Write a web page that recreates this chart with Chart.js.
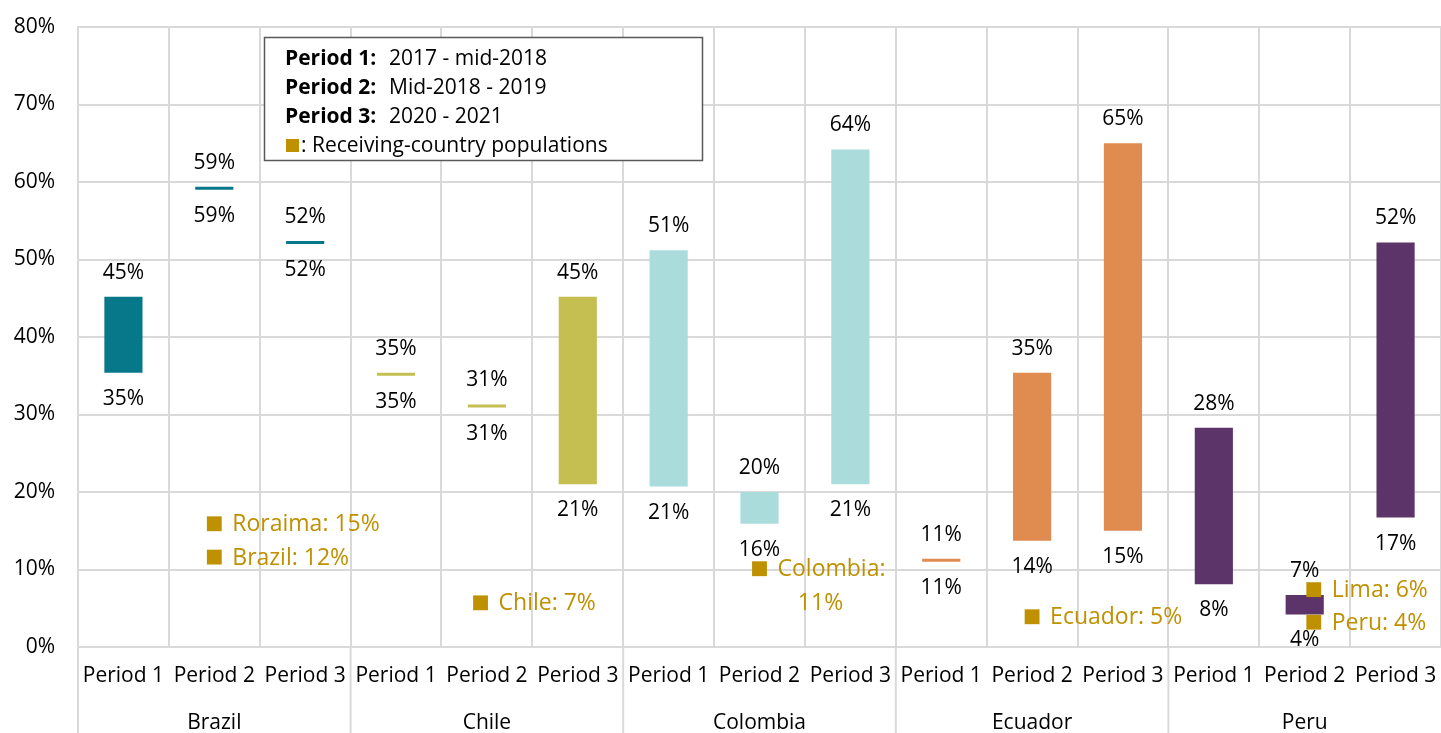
<!DOCTYPE html>
<html>
<head>
<meta charset="utf-8">
<script src="https://cdn.jsdelivr.net/npm/chart.js@4/dist/chart.umd.min.js"></script>
<style>
  html, body { margin: 0; padding: 0; background: #fff; }
  #wrap { width: 1441px; height: 733px; }
</style>
</head>
<body>
<div id="wrap"><canvas id="grafica"></canvas></div>
<script>
var categories = ['Period 1', 'Period 2', 'Period 3', 'Period 1', 'Period 2', 'Period 3',
    'Period 1', 'Period 2', 'Period 3', 'Period 1', 'Period 2', 'Period 3',
    'Period 1', 'Period 2', 'Period 3'];
var countries = ['Brazil', 'Chile', 'Colombia', 'Ecuador', 'Peru'];
var countryColors = ['#07788a', '#c4bf50', '#aadcdb', '#e08b50', '#5c3469'];

// floating bars: low and high end of each range (%)
var lowValues  = [35.4, 59.0, 52.0, 35.0, 30.9, 21.0, 20.7, 15.9, 21.0, 11.0, 13.7, 15.0, 8.1, 4.2, 16.7];
var highValues = [45.2, 59.4, 52.4, 35.4, 31.3, 45.2, 51.2, 20.0, 64.2, 11.4, 35.4, 65.0, 28.3, 6.7, 52.2];

// receiving-country population markers
var refX = [1, 1, 3.93, 7, 10, 13.1, 13.1];
var refY = [15.9, 11.6, 5.7, 10.1, 3.9, 7.4, 3.2];
var refText = ['Roraima: 15%', 'Brazil: 12%', 'Chile: 7%', ['Colombia:', '11%'], 'Ecuador: 5%', 'Lima: 6%', 'Peru: 4%'];

var yTicks = [0, 10, 20, 30, 40, 50, 60, 70, 80];

var GOLD = '#bf9000';
var FONT = '"Open Sans", sans-serif';

var extras = {
    id: 'extras',
    afterDatasetsDraw: function (chart) {
        var ctx = chart.ctx;
        var area = chart.chartArea;
        var xs = chart.scales.x;
        ctx.save();

        // range labels
        ctx.font = '21px ' + FONT;
        ctx.fillStyle = '#000';
        ctx.textAlign = 'center';
        ctx.textBaseline = 'middle';
        chart.getDatasetMeta(0).data.forEach(function (bar, i) {
            ctx.fillText(Math.round(highValues[i]) + '%', bar.x, bar.y - 24);
            ctx.fillText(Math.round(lowValues[i]) + '%', bar.x, bar.base + 26);
        });

        // marker labels
        ctx.font = '23px ' + FONT;
        ctx.fillStyle = GOLD;
        chart.getDatasetMeta(1).data.forEach(function (pt, i) {
            var t = refText[i];
            ctx.textAlign = 'left';
            if (Array.isArray(t)) {
                ctx.fillText(t[0], pt.x + 18, pt.y + 1);
                ctx.textAlign = 'center';
                ctx.fillText(t[1], pt.x + 61, pt.y + 35);
            } else {
                ctx.fillText(t, pt.x + 18, pt.y + 1);
            }
        });

        // country group labels and separators
        var step = xs.getPixelForValue(1) - xs.getPixelForValue(0);
        ctx.strokeStyle = '#d9d9d9';
        ctx.lineWidth = 2;
        ctx.font = '21px ' + FONT;
        ctx.fillStyle = '#000';
        ctx.textAlign = 'center';
        countries.forEach(function (c, g) {
            var left = xs.getPixelForValue(g * 3) - step / 2;
            ctx.beginPath();
            ctx.moveTo(left, area.bottom);
            ctx.lineTo(left, chart.height);
            ctx.stroke();
            ctx.fillText(c, xs.getPixelForValue(g * 3 + 1), area.bottom + 76);
        });
        ctx.restore();
    },
    afterDraw: function (chart) {
        var ctx = chart.ctx;
        ctx.save();
        ctx.fillStyle = '#fff';
        ctx.fillRect(264, 37, 439, 124);
        ctx.strokeStyle = '#595959';
        ctx.lineWidth = 1.5;
        ctx.strokeRect(264.5, 37.5, 438, 123);

        var rows = [['Period 1:', '2017 - mid-2018'], ['Period 2:', 'Mid-2018 - 2019'], ['Period 3:', '2020 - 2021']];
        ctx.textBaseline = 'alphabetic';
        ctx.textAlign = 'left';
        ctx.fillStyle = '#000';
        rows.forEach(function (r, i) {
            var y = 65 + i * 29;
            ctx.font = 'bold 21px ' + FONT;
            ctx.fillText(r[0], 285, y);
            ctx.font = '21px ' + FONT;
            ctx.fillText(r[1], 389, y);
        });
        ctx.fillStyle = GOLD;
        ctx.fillRect(286, 139, 13, 13);
        ctx.fillStyle = '#000';
        ctx.font = '21px ' + FONT;
        ctx.fillText(': Receiving-country populations', 301, 152);
        ctx.restore();
    }
};

new Chart(document.getElementById('grafica').getContext('2d'), {
    data: {
        labels: categories,
        datasets: [{
            type: 'bar',
            data: lowValues.map(function (v, i) { return [v, highValues[i]]; }),
            backgroundColor: categories.map(function (c, i) { return countryColors[Math.floor(i / 3)]; }),
            borderWidth: 0,
            grouped: false,
            barPercentage: 1,
            categoryPercentage: 0.42,
            order: 2
        }, {
            type: 'scatter',
            xAxisID: 'xs',
            data: refX.map(function (x, i) { return { x: x, y: refY[i] }; }),
            pointStyle: 'rect',
            pointRadius: 10.5,
            pointBackgroundColor: GOLD,
            pointBorderWidth: 0,
            order: 1
        }]
    },
    options: {
        responsive: true,
        maintainAspectRatio: false,
        animation: false,
        layout: { autoPadding: false, padding: { top: 27, right: 0, bottom: 0, left: 0 } },
        plugins: { legend: { display: false }, tooltip: { enabled: false } },
        events: [],
        scales: {
            x: {
                type: 'category',
                offset: true,
                afterFit: function (s) { s.height = 86; s.paddingLeft = 0; s.paddingRight = 0; },
                grid: { color: '#d9d9d9', lineWidth: 2, drawTicks: false, offset: true },
                border: { color: '#d9d9d9', width: 2 },
                ticks: { font: { size: 21, family: FONT, lineHeight: 2.8 }, color: '#000', padding: 0, autoSkip: false, maxRotation: 0 }
            },
            xs: { type: 'linear', display: false, min: -0.5, max: 14.5 },
            y: {
                min: 0,
                max: 80,
                afterFit: function (s) { s.width = 78; s.paddingTop = 0; s.paddingBottom = 0; },
                afterBuildTicks: function (s) { s.ticks = yTicks.map(function (v) { return { value: v }; }); },
                grid: { color: '#d9d9d9', lineWidth: 2, drawTicks: false },
                border: { color: '#d9d9d9', width: 2 },
                ticks: {
                    font: { size: 21, family: FONT },
                    color: '#000',
                    padding: 23,
                    callback: function (v) { return v + '%'; }
                }
            }
        }
    },
    plugins: [extras]
});
</script>
</body>
</html>
